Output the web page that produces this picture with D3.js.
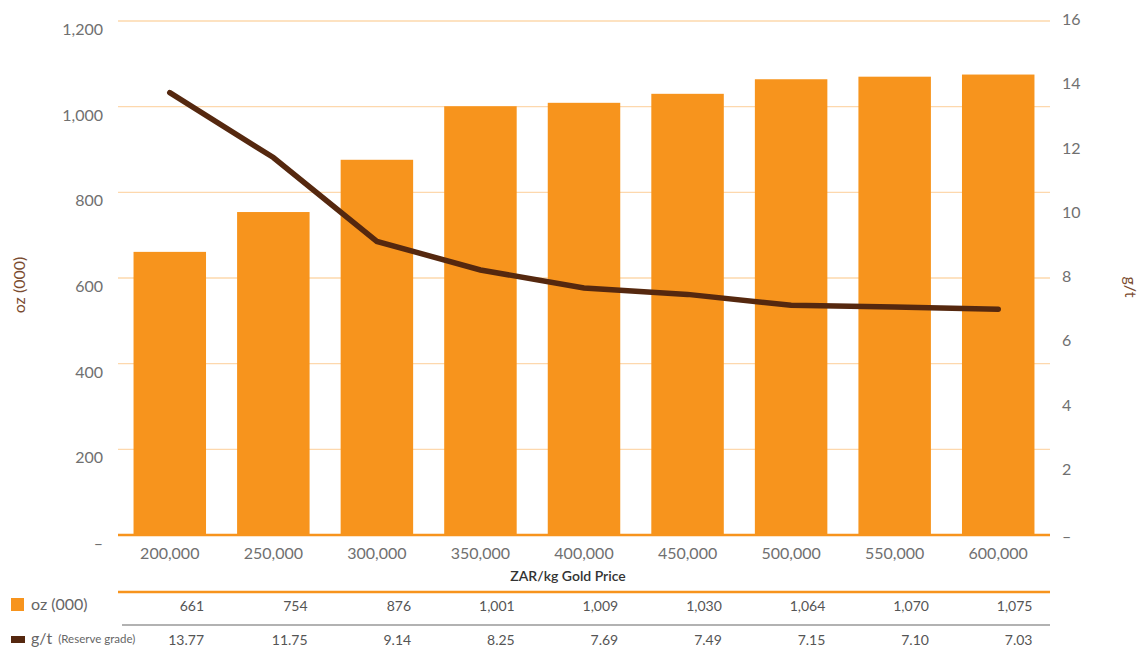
<!DOCTYPE html>
<html>
<head>
<meta charset="utf-8">
<script src="https://cdn.jsdelivr.net/npm/d3@7"></script>
<style>
  html, body { margin: 0; padding: 0; background: #fff; }
  svg { display: block; font-family: Lato, "Open Sans", sans-serif; }
</style>
</head>
<body>
<svg id="chart" width="1144" height="650"></svg>
<script>
// Gold price scenarios (ZAR/kg) with reserve ounces and reserve grade
const prices = ["200,000", "250,000", "300,000", "350,000", "400,000", "450,000", "500,000", "550,000", "600,000"];
const ounces = [661, 754, 876, 1001, 1009, 1030, 1064, 1070, 1075];
const grades = [13.77, 11.75, 9.14, 8.25, 7.69, 7.49, 7.15, 7.10, 7.03];
const ozTicks = [0, 200, 400, 600, 800, 1000, 1200];
const gtTicks = [0, 2, 4, 6, 8, 10, 12, 14, 16];

const ORANGE = "#f7941d";
const BROWN = "#55280f";
const GRID = "#fdd8ad";
const LABEL = "#707070";

const svg = d3.select("#chart");

const x = d3.scaleBand().domain(prices).range([118, 1050]).paddingInner(0.3).paddingOuter(0.15);
const yL = d3.scaleLinear().domain([0, 1200]).range([535, 21]);
const yR = d3.scaleLinear().domain([0, 16]).range([535, 21]);

// Gridlines
svg.append("g").selectAll("line")
  .data(ozTicks.filter(d => d > 0))
  .join("line")
  .attr("x1", 118).attr("x2", 1050)
  .attr("y1", d => yL(d)).attr("y2", d => yL(d))
  .attr("stroke", GRID).attr("stroke-width", 1.3);

// Left axis labels
const fmt = d3.format(",");
svg.append("g").selectAll("text")
  .data(ozTicks)
  .join("text")
  .attr("x", 103)
  .attr("y", d => yL(d) + (d === 0 ? 10 : 10))
  .attr("text-anchor", "end")
  .attr("dominant-baseline", "middle")
  .attr("fill", LABEL)
  .attr("font-size", 16)
  .text(d => d === 0 ? "–" : fmt(d));

// Right axis labels
svg.append("g").selectAll("text")
  .data(gtTicks)
  .join("text")
  .attr("x", 1062)
  .attr("y", d => yR(d) + (d === 0 ? 3 : 0))
  .attr("text-anchor", "start")
  .attr("dominant-baseline", "middle")
  .attr("fill", LABEL)
  .attr("font-size", 16)
  .text(d => d === 0 ? "–" : d);

// Axis titles
svg.append("text")
  .attr("transform", "translate(21,285) rotate(-90)")
  .attr("text-anchor", "middle")
  .attr("dominant-baseline", "middle")
  .attr("fill", "#7a4b30")
  .attr("font-size", 16)
  .text("oz (000)");

svg.append("text")
  .attr("transform", "translate(1129,287) rotate(90)")
  .attr("text-anchor", "middle")
  .attr("dominant-baseline", "middle")
  .attr("fill", "#7a4b30")
  .attr("font-size", 16)
  .text("g/t");

// Bars
svg.append("g").selectAll("rect")
  .data(ounces)
  .join("rect")
  .attr("x", (d, i) => x(prices[i]))
  .attr("width", x.bandwidth())
  .attr("y", d => yL(d))
  .attr("height", d => yL(0) - yL(d))
  .attr("fill", ORANGE);

// Baseline
svg.append("line")
  .attr("x1", 118).attr("x2", 1050)
  .attr("y1", 535).attr("y2", 535)
  .attr("stroke", ORANGE).attr("stroke-width", 2.5);

// Grade line
const line = d3.line()
  .x((d, i) => x(prices[i]) + x.bandwidth() / 2)
  .y(d => yR(d));
svg.append("path")
  .datum(grades)
  .attr("d", line)
  .attr("fill", "none")
  .attr("stroke", BROWN)
  .attr("stroke-width", 5.5)
  .attr("stroke-linecap", "round")
  .attr("stroke-linejoin", "miter");

// X tick labels
svg.append("g").selectAll("text")
  .data(prices)
  .join("text")
  .attr("x", d => x(d) + x.bandwidth() / 2)
  .attr("y", 555)
  .attr("text-anchor", "middle")
  .attr("dominant-baseline", "middle")
  .attr("fill", LABEL)
  .attr("font-size", 16)
  .text(d => d);

svg.append("text")
  .attr("x", 568).attr("y", 577)
  .attr("text-anchor", "middle")
  .attr("dominant-baseline", "middle")
  .attr("fill", "#333")
  .attr("font-size", 14)
  .attr("font-weight", 600)
  .text("ZAR/kg Gold Price");

// Data table
svg.append("line")
  .attr("x1", 118).attr("x2", 1050)
  .attr("y1", 592).attr("y2", 592)
  .attr("stroke", ORANGE).attr("stroke-width", 2.5);
svg.append("line")
  .attr("x1", 122).attr("x2", 1050)
  .attr("y1", 625).attr("y2", 625)
  .attr("stroke", "#999").attr("stroke-width", 1.3);

svg.append("g").selectAll("text")
  .data(ounces)
  .join("text")
  .attr("x", (d, i) => x(prices[i]) + x.bandwidth() - 2)
  .attr("y", 607)
  .attr("text-anchor", "end")
  .attr("dominant-baseline", "middle")
  .attr("fill", "#555")
  .attr("font-size", 14)
  .text(d => fmt(d));

svg.append("g").selectAll("text")
  .data(grades)
  .join("text")
  .attr("x", (d, i) => x(prices[i]) + x.bandwidth() - 2)
  .attr("y", 641)
  .attr("text-anchor", "end")
  .attr("dominant-baseline", "middle")
  .attr("fill", "#555")
  .attr("font-size", 14)
  .text(d => d.toFixed(2));

// Row legends
svg.append("rect").attr("x", 11).attr("y", 598).attr("width", 13).attr("height", 13).attr("fill", ORANGE);
svg.append("text").attr("x", 31).attr("y", 606)
  .attr("dominant-baseline", "middle").attr("fill", "#666").attr("font-size", 16)
  .text("oz (000)");

svg.append("rect").attr("x", 11).attr("y", 636).attr("width", 14).attr("height", 7).attr("fill", BROWN);
const g2 = svg.append("text").attr("x", 31).attr("y", 640)
  .attr("dominant-baseline", "middle").attr("fill", "#666").attr("font-size", 16);
g2.append("tspan").text("g/t ");
g2.append("tspan").attr("font-size", 11.5).attr("dx", 2).text("(Reserve grade)");
</script>
</body>
</html>
